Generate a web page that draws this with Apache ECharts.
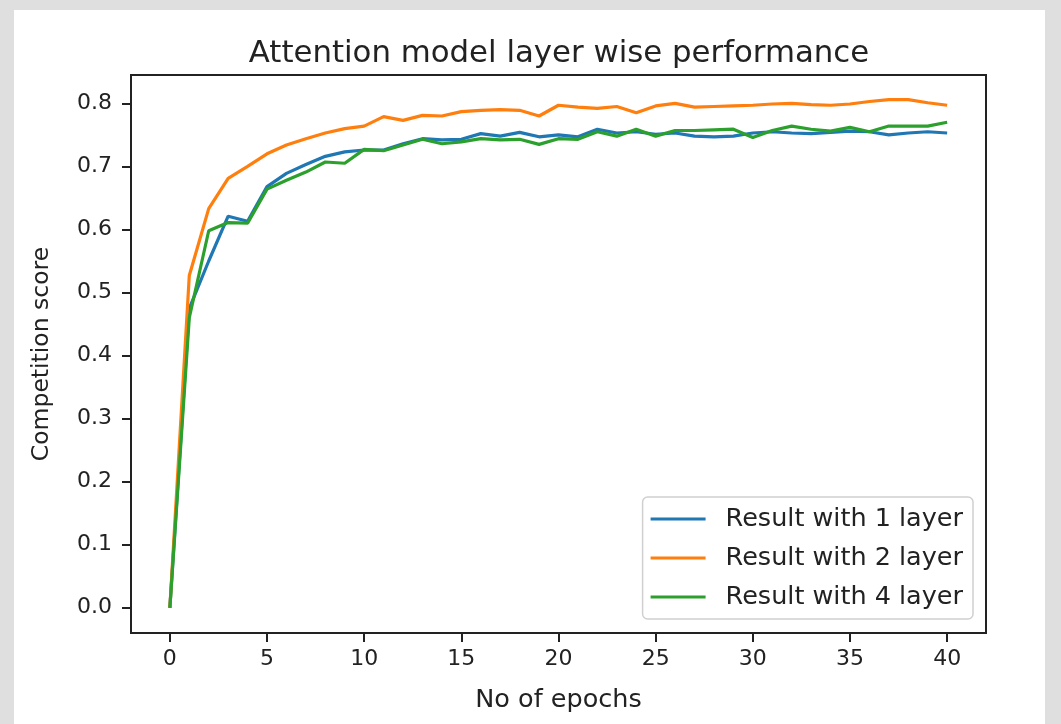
<!DOCTYPE html>
<html>
<head>
<meta charset="utf-8">
<script src="https://cdn.jsdelivr.net/npm/echarts@6/dist/echarts.min.js"></script>
<style>
  html, body { margin: 0; padding: 0; background: #dfdfdf; }
  #paper { position: absolute; left: 14px; top: 10px; width: 1031px; height: 714px; background: #ffffff; }
  #chart { position: absolute; left: 0; top: 0; width: 1061px; height: 724px; }
</style>
</head>
<body>
<div id="paper"></div>
<div id="chart"></div>
<script>
const epochs = [0,1,2,3,4,5,6,7,8,9,10,11,12,13,14,15,16,17,18,19,20,21,22,23,24,25,26,27,28,29,30,31,32,33,34,35,36,37,38,39,40];
const layer1 = [0.0,0.475,0.55,0.621,0.613,0.668,0.689,0.703,0.716,0.723,0.726,0.726,0.736,0.744,0.742,0.743,0.752,0.748,0.754,0.747,0.750,0.747,0.759,0.753,0.755,0.751,0.753,0.748,0.747,0.748,0.753,0.755,0.753,0.752,0.754,0.756,0.755,0.750,0.753,0.755,0.753];
const layer2 = [0.0,0.527,0.633,0.681,0.700,0.720,0.734,0.744,0.753,0.760,0.764,0.779,0.773,0.781,0.780,0.787,0.789,0.790,0.789,0.780,0.797,0.794,0.792,0.795,0.785,0.796,0.800,0.794,0.795,0.796,0.797,0.799,0.800,0.798,0.797,0.799,0.803,0.806,0.806,0.801,0.797];
const layer4 = [0.0,0.46,0.598,0.611,0.610,0.664,0.678,0.691,0.707,0.705,0.727,0.725,0.734,0.743,0.736,0.739,0.744,0.742,0.743,0.735,0.744,0.743,0.755,0.748,0.759,0.748,0.757,0.757,0.758,0.759,0.746,0.757,0.764,0.759,0.756,0.762,0.755,0.764,0.764,0.764,0.770];
const seriesNames = ['Result with 1 layer','Result with 2 layer','Result with 4 layer'];
const xTicks = [0,5,10,15,20,25,30,35,40];
const yTicks = [0,0.1,0.2,0.3,0.4,0.5,0.6,0.7,0.8];

const FONT = "'DejaVu Sans', sans-serif";
const colors = ['#1f77b4','#ff7f0e','#2ca02c'];
const values = [layer1, layer2, layer4];

const chart = echarts.init(document.getElementById('chart'), null, {renderer: 'canvas'});
chart.setOption({
  backgroundColor: 'transparent',
  animation: false,
  title: {
    text: 'Attention model layer wise performance',
    left: 554, top: 33, textAlign: 'center',
    textStyle: { fontFamily: FONT, fontSize: 30.8, fontWeight: 'normal', color: '#222' }
  },
  grid: {
    left: 131, right: 75, top: 75, bottom: 91,
    show: true, borderColor: '#222', borderWidth: 2, backgroundColor: 'transparent'
  },
  legend: {
    orient: 'vertical',
    right: 88, bottom: 105,
    data: seriesNames,
    icon: 'rect',
    itemWidth: 55, itemHeight: 3,
    itemGap: 13,
    padding: [9, 10, 9, 8],
    backgroundColor: '#fff',
    borderColor: '#d0d0d0', borderWidth: 1.5, borderRadius: 5,
    textStyle: { fontFamily: FONT, fontSize: 25.5, color: '#222', padding: [0,0,0,15] }
  },
  xAxis: {
    type: 'value', min: -2, max: 42,
    name: 'No of epochs', nameLocation: 'middle', nameGap: 54,
    nameTextStyle: { fontFamily: FONT, fontSize: 25.5, color: '#222' },
    axisLine: { show: true, onZero: false, lineStyle: { color: '#222', width: 2 } },
    axisTick: { show: true, length: 9, inside: false, customValues: xTicks, lineStyle: { color: '#222', width: 2 } },
    axisLabel: { customValues: xTicks, fontFamily: FONT, fontSize: 22, color: '#222', margin: 15 },
    splitLine: { show: false }
  },
  yAxis: {
    type: 'value', min: -0.04, max: 0.845,
    name: 'Competition score', nameLocation: 'middle', nameGap: 77,
    nameTextStyle: { fontFamily: FONT, fontSize: 23.5, color: '#222' },
    axisLine: { show: true, onZero: false, lineStyle: { color: '#222', width: 2 } },
    axisTick: { show: true, length: 9, customValues: yTicks, lineStyle: { color: '#222', width: 2 } },
    axisLabel: { customValues: yTicks, fontFamily: FONT, fontSize: 22, color: '#222', margin: 19,
      formatter: v => v.toFixed(1) },
    splitLine: { show: false }
  },
  series: seriesNames.map((n, k) => ({
    name: n,
    type: 'line',
    showSymbol: false, symbol: 'none',
    lineStyle: { color: colors[k], width: 3.2 },
    itemStyle: { color: colors[k] },
    data: epochs.map((e, i) => [e, values[k][i]])
  }))
});
</script>
</body>
</html>
